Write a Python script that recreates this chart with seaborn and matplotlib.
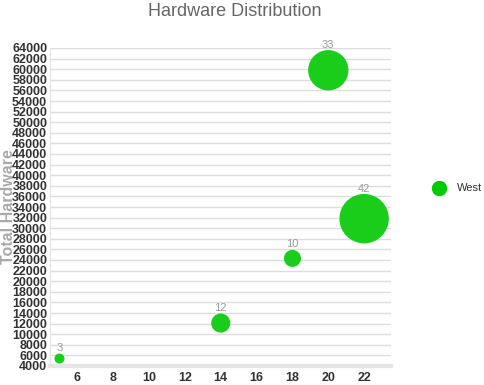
import matplotlib
matplotlib.use("Agg")
import matplotlib.pyplot as plt
import seaborn as sns
import pandas as pd

# Data
series = ["West", "West", "West", "West", "West"]
x_vals = [5, 14, 18, 20, 22]
y_vals = [5400, 12100, 24300, 59800, 31800]
counts = [3, 12, 10, 33, 42]
y_ticks = list(range(4000, 64001, 2000))
x_ticks = [6, 8, 10, 12, 14, 16, 18, 20, 22]

df = pd.DataFrame({"x": x_vals, "y": y_vals, "count": counts, "series": series})

sns.set_theme(style="white")
plt.rcParams["font.family"] = ["Liberation Sans", "DejaVu Sans"]

DPI = 100
fig = plt.figure(figsize=(4.84, 3.85), dpi=DPI)
ax = fig.add_axes([50 / 484, 1 - 366 / 385, 341 / 484, (366 - 48) / 385])

GREEN = "#1acd1a"
cmin, cmax = min(counts), max(counts)
def rad_px(v):
    return 5 + (v - cmin) / (cmax - cmin) * 19.7
size_map = {c: (2 * rad_px(c) * 72 / DPI) ** 2 for c in counts}

sns.scatterplot(data=df, x="x", y="y", size="count", sizes=size_map,
                color=GREEN, edgecolor="none", linewidth=0, alpha=1,
                legend=False, ax=ax, zorder=3)

for xv, yv, c in zip(x_vals, y_vals, counts):
    r_pt = rad_px(c) * 72 / DPI
    ax.annotate(str(c), (xv, yv), xytext=(0, r_pt + 0.3), textcoords="offset points",
                ha="center", va="bottom", fontsize=8, color="#999999")

ax.set_xlim(4.47, 23.5)
ax.set_ylim(4000, 64000)
ax.set_xticks(x_ticks)
ax.set_yticks(y_ticks)
ax.set_xticklabels([str(t) for t in x_ticks], fontsize=9, fontweight="bold", color="#333333")
ax.set_yticklabels([str(t) for t in y_ticks], fontsize=9, fontweight="bold", color="#333333")
ax.tick_params(axis="both", length=0, pad=2)
ax.tick_params(axis="x", pad=4)
ax.grid(axis="y", color="#dddddd", linewidth=1)
ax.grid(axis="x", visible=False)
for s in ["top", "right"]:
    ax.spines[s].set_visible(False)
ax.spines["left"].set_color("#e6e6e6")
ax.spines["left"].set_linewidth(1)
ax.spines["bottom"].set_color("#e6e6e6")
ax.spines["bottom"].set_linewidth(3)
ax.set_xlabel("")
ax.set_ylabel("Total Hardware", fontsize=11.5, fontweight="bold", color="#aaaaaa")
ax.yaxis.set_label_coords((16 - 50) / 341, 0.5)

fig.text(235 / 484, 1 - 12 / 385, "Hardware Distribution", ha="center", va="center",
         fontsize=13, color="#666666")

ax.scatter([], [], s=(14 * 72 / DPI) ** 2, color="#00cc00", label="West")
leg = ax.legend(loc="center left", bbox_to_anchor=(428 / 484, 1 - 188 / 385),
                bbox_transform=fig.transFigure, frameon=False, fontsize=8,
                handletextpad=0.6, borderpad=0, borderaxespad=0)
for t in leg.get_texts():
    t.set_color("#333333")

fig.savefig("out.png", dpi=DPI)
